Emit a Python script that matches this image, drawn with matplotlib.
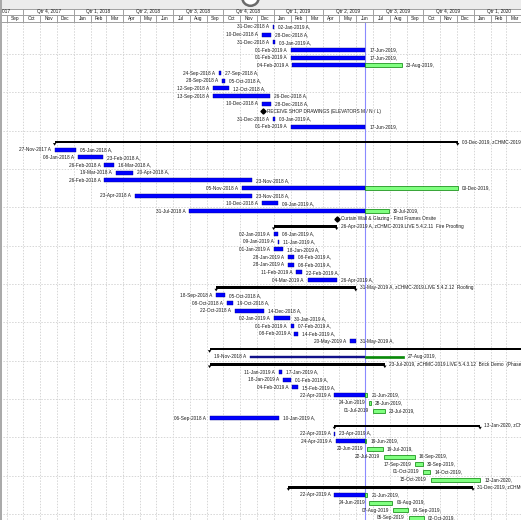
import datetime as dt
import matplotlib
matplotlib.use("Agg")
import matplotlib.pyplot as plt
import matplotlib.dates as mdates
from matplotlib.patches import Rectangle, Polygon, Circle
from matplotlib.transforms import IdentityTransform

plt.rcParams['font.family'] = ['Liberation Sans', 'DejaVu Sans']

data_date = "17-Jun-2019"

# one entry per row, top to bottom ("A" = actual date)
kinds = (["task"] * 11 + ["mile"] + ["task"] * 2 + ["blank"] + ["summ"]
         + ["task"] * 9 + ["mile"] + ["summ"] + ["task"] * 7 + ["summ"]
         + ["task"] * 7 + ["summ"] + ["loe"] + ["summ"] + ["task"] * 7
         + ["summ"] + ["task"] * 7 + ["summ"] + ["task"] * 4)

starts = [
    "31-Dec-2018 A", "10-Dec-2018 A", "31-Dec-2018 A", "01-Feb-2019 A", "01-Feb-2019 A",
    "04-Feb-2019 A", "24-Sep-2018 A", "28-Sep-2018 A", "12-Sep-2018 A", "13-Sep-2018 A",
    "10-Dec-2018 A", "12-Dec-2018", "31-Dec-2018 A", "01-Feb-2019 A", "",
    "27-Nov-2017 A", "27-Nov-2017 A", "08-Jan-2018 A", "26-Feb-2018 A", "19-Mar-2018 A",
    "26-Feb-2018 A", "05-Nov-2018 A", "23-Apr-2018 A", "10-Dec-2018 A", "31-Jul-2018 A",
    "26-Apr-2019", "01-Jan-2019 A", "02-Jan-2019 A", "09-Jan-2019 A", "01-Jan-2019 A",
    "28-Jan-2019 A", "28-Jan-2019 A", "11-Feb-2019 A", "04-Mar-2019 A", "18-Sep-2018 A",
    "18-Sep-2018 A", "08-Oct-2018 A", "22-Oct-2018 A", "02-Jan-2019 A", "01-Feb-2019 A",
    "08-Feb-2019 A", "20-May-2019 A", "06-Sep-2018 A", "19-Nov-2018 A", "06-Sep-2018 A",
    "11-Jan-2019 A", "18-Jan-2019 A", "04-Feb-2019 A", "22-Apr-2019 A", "24-Jun-2019",
    "01-Jul-2019", "06-Sep-2018 A", "22-Apr-2019 A", "22-Apr-2019 A", "24-Apr-2019 A",
    "20-Jun-2019", "22-Jul-2019", "17-Sep-2019", "01-Oct-2019", "15-Oct-2019",
    "28-Jan-2019 A", "22-Apr-2019 A", "24-Jun-2019", "07-Aug-2019", "05-Sep-2019",
]

finishes = [
    "02-Jan-2019 A", "28-Dec-2018 A", "03-Jan-2019 A", "17-Jun-2019", "17-Jun-2019",
    "23-Aug-2019", "27-Sep-2018 A", "05-Oct-2018 A", "12-Oct-2018 A", "26-Dec-2018 A",
    "28-Dec-2018 A", "", "03-Jan-2019 A", "17-Jun-2019", "",
    "03-Dec-2019", "05-Jan-2018 A", "23-Feb-2018 A", "16-Mar-2018 A", "20-Apr-2018 A",
    "23-Nov-2018 A", "03-Dec-2019", "23-Nov-2018 A", "09-Jan-2019 A", "30-Jul-2019",
    "", "26-Apr-2019 A", "08-Jan-2019 A", "11-Jan-2019 A", "18-Jan-2019 A",
    "08-Feb-2019 A", "08-Feb-2019 A", "22-Feb-2019 A", "26-Apr-2019 A", "31-May-2019 A",
    "05-Oct-2018 A", "19-Oct-2018 A", "14-Dec-2018 A", "30-Jan-2019 A", "07-Feb-2019 A",
    "14-Feb-2019 A", "31-May-2019 A", "30-Jun-2020", "27-Aug-2019", "23-Jul-2019",
    "17-Jan-2019 A", "01-Feb-2019 A", "15-Feb-2019 A", "21-Jun-2019", "28-Jun-2019",
    "23-Jul-2019", "10-Jan-2019 A", "13-Jan-2020", "23-Apr-2019 A", "19-Jun-2019",
    "19-Jul-2019", "16-Sep-2019", "30-Sep-2019", "14-Oct-2019", "13-Jan-2020",
    "31-Dec-2019", "21-Jun-2019", "06-Aug-2019", "04-Sep-2019", "02-Oct-2019",
]

names = {
    11: "RECEIVE SHOP DRAWINGS (ELEVATORS M / N / L)",
    15: "zCHMC-2019.LIVE 5.4.2.10  Curtain Wall & Glazing",
    25: "Curtain Wall & Glazing - First Frames Onsite",
    26: "zCHMC-2019.LIVE 5.4.2.11  Fire Proofing",
    34: "zCHMC-2019.LIVE 5.4.2.12  Roofing",
    42: "zCHMC-2019.LIVE 5.4.3  Phase 2",
    44: "zCHMC-2019.LIVE 5.4.3.12  Brick Demo  (Phase 2, Infill)",
    52: "zCHMC-2019.LIVE 5.4.3.13  Masonry",
    60: "zCHMC-2019.LIVE 5.4.3.14  Windows",
}


def d(s):
    return mdates.date2num(dt.datetime.strptime(s[:11], "%d-%b-%Y"))


W, H = 521, 520
dpp = 30.4375 / 16.667          # days per pixel of the timescale
xmin = d("01-Sep-2017") - 7 * dpp
xmax = xmin + W * dpp
row0, pitch = 27, 7.67
head = 22
txt_col = "#1a1a1a"
fs = 3.4

fig = plt.figure(figsize=(W / 100, H / 100), dpi=100)
ax = fig.add_axes([0, 0, 1, 1])
ax.set_xlim(xmin, xmax)
ax.set_ylim(H, 0)
ax.axis("off")

# months shown on the timescale
months = []
y_, m_ = 2017, 8
while True:
    months.append(dt.datetime(y_, m_, 1))
    if (y_, m_) == (2020, 4):
        break
    m_ += 1
    if m_ > 12:
        m_, y_ = 1, y_ + 1

# grid
for mo in months:
    x = mdates.date2num(mo)
    ax.plot([x, x], [head, H], color="#d6d6d6", lw=0.7, ls=(0, (1.5, 1.5)), zorder=1)
for k in range(13):
    y = row0 + (k * 5 + 3.5) * pitch
    ax.plot([xmin, xmax], [y, y], color="#d6d6d6", lw=0.7, ls=(0, (1.5, 1.5)), zorder=1)

# data date
dd = d(data_date)
ax.plot([dd, dd], [head, H], color="#8a8aff", lw=0.8, zorder=2)

# header
ax.add_patch(Rectangle((xmin, 0), xmax - xmin, 8.5, fc="#ececec", ec="none", zorder=5))
ax.add_patch(Rectangle((xmin, 8.5), xmax - xmin, head - 8.5, fc="white", ec="none", zorder=5))
for y in (8.5, 15.2, head):
    ax.plot([xmin, xmax], [y, y], color="#a0a0a0", lw=0.7, zorder=6)
for i, mo in enumerate(months[:-1]):
    x0 = mdates.date2num(mo)
    x1 = mdates.date2num(months[i + 1])
    ax.plot([x0, x0], [15.2 if mo.month % 3 != 1 else 8.5, head], color="#a0a0a0", lw=0.7, zorder=6)
    ax.text((x0 + x1) / 2, 18.7, mo.strftime("%b"), fontsize=fs, color=txt_col,
            ha="center", va="center", zorder=7)
    if mo.month % 3 == 1:
        qe = mdates.date2num(dt.datetime(mo.year + (mo.month + 3 > 12), (mo.month + 2) % 12 + 1, 1))
        ax.text((x0 + qe) / 2, 12, "Qtr %d, %d" % ((mo.month - 1) // 3 + 1, mo.year),
                fontsize=fs, color=txt_col, ha="center", va="center", zorder=7)
# Qtr 3, 2017 is cut by the left edge
qs, qe = mdates.date2num(dt.datetime(2017, 7, 1)), mdates.date2num(dt.datetime(2017, 10, 1))
ax.text((qs + qe) / 2, 12, "Qtr 3, 2017", fontsize=fs, color=txt_col, ha="center", va="center", zorder=7)
ax.plot([xmin + 1.2 * dpp] * 2, [0, H], color="#a8a8a8", lw=1.4, zorder=8)

# busy ring left over from the screenshot
ax.add_patch(Circle((250.5, H + 2.5), 8.3, transform=IdentityTransform(),
                    fc="white", ec="#6a6a6a", lw=1.8, zorder=9))

blue, blue_ec = "#0000ff", "#00008c"
green, green_ec = "#80ff80", "#008000"


def label(x, y, s, side):
    off = -4 if side == "l" else 4
    ax.annotate(s, xy=(x, y), xytext=(off, 0), textcoords="offset pixels",
                ha="right" if side == "l" else "left", va="center",
                fontsize=fs, color=txt_col, zorder=4, annotation_clip=False)


for i, kind in enumerate(kinds):
    y = row0 + i * pitch
    if kind == "blank":
        continue
    s = d(starts[i])
    if kind == "mile":
        ax.plot(s, y, marker="D", ms=2.6, color="black", mec="black", zorder=4)
        label(s, y, names[i], "r")
        continue
    f = d(finishes[i])
    f_act = finishes[i].endswith("A")
    if kind == "summ":
        ax.add_patch(Rectangle((s, y - 1.3), f - s, 2.6, fc="black", ec="none", zorder=3))
        for x in (s, f):
            ax.add_patch(Polygon([(x - 1.7 * dpp, y + 1), (x + 1.7 * dpp, y + 1), (x, y + 3.6)],
                                 closed=True, fc="black", ec="none", zorder=3))
        label(f, y, finishes[i] + ", " + names[i], "r")
        continue
    h = 4 if kind == "task" else 1.6
    bc, bec = (blue, blue_ec) if kind == "task" else ("#10108a", "#10108a")
    gc, gec = (green, green_ec) if kind == "task" else ("#0a8a0a", "#0a8a0a")
    w = max(f - s, 1.2)
    if f_act or f <= dd:
        ax.add_patch(Rectangle((s, y - h / 2), w, h, fc=bc, ec=bec, lw=0.3, zorder=3))
    elif s >= dd:
        ax.add_patch(Rectangle((s, y - h / 2), w, h, fc=gc, ec=gec, lw=0.5, zorder=3))
    else:
        ax.add_patch(Rectangle((s, y - h / 2), dd - s, h, fc=bc, ec=bec, lw=0.3, zorder=3))
        ax.add_patch(Rectangle((dd, y - h / 2), f - dd, h, fc=gc, ec=gec, lw=0.5, zorder=3))
    label(s, y, starts[i], "l")
    label(s + w, y, finishes[i] + ",", "r")

fig.savefig("out.png", dpi=100)
